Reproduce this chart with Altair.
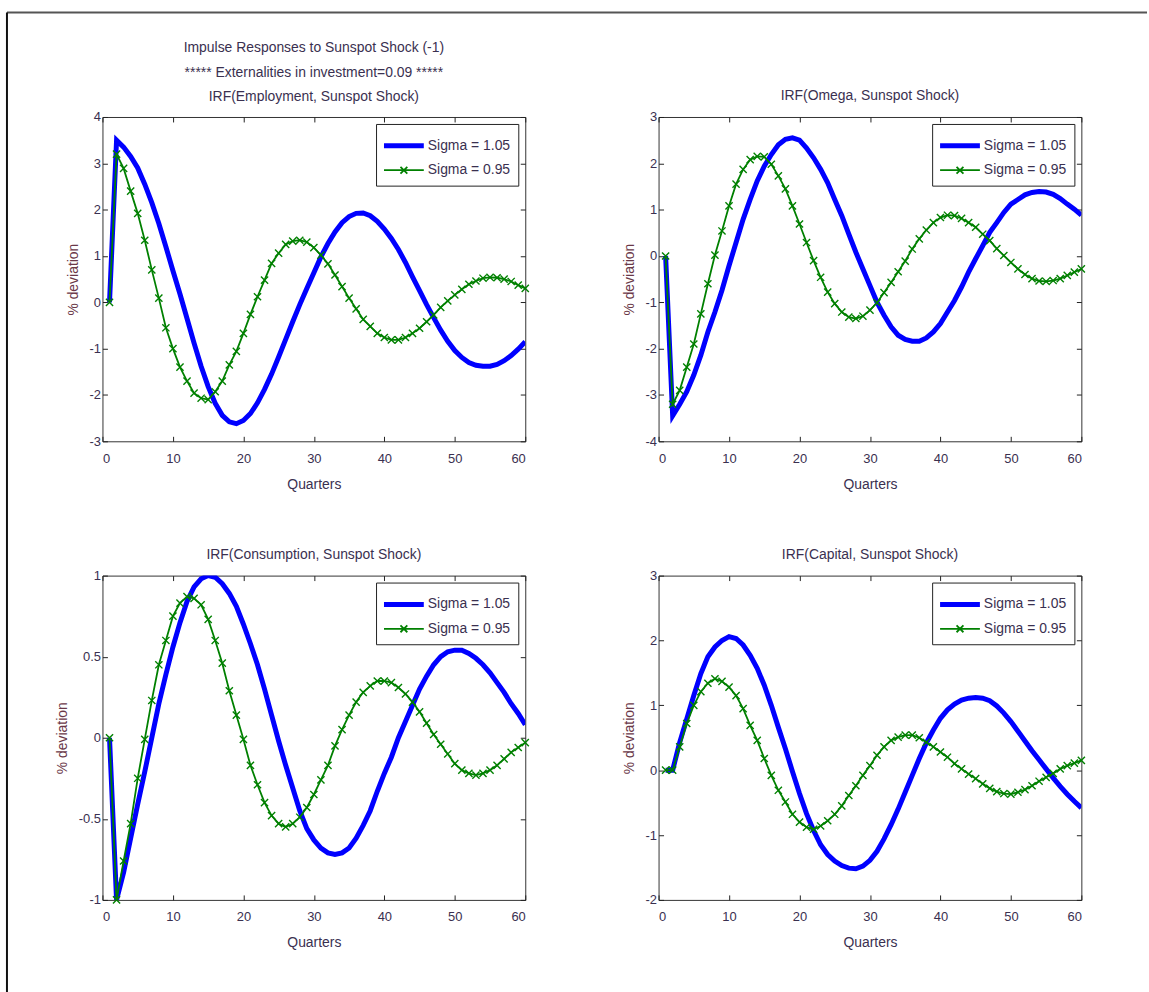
import altair as alt
import pandas as pd

quarters = list(range(1, 61))
series_names = ["Sigma = 1.05", "Sigma = 0.95"]

emp_blue = [0, 3.5, 3.35, 3.15, 2.9, 2.55, 2.15, 1.7, 1.2, 0.68,
            0.18, -0.35, -0.88, -1.38, -1.82, -2.18, -2.44, -2.58, -2.62, -2.55,
            -2.4, -2.17, -1.88, -1.55, -1.18, -0.8, -0.42, -0.05, 0.3, 0.64,
            0.98, 1.27, 1.52, 1.72, 1.85, 1.92, 1.93, 1.87, 1.75, 1.58,
            1.38, 1.14, 0.86, 0.55, 0.25, -0.05, -0.33, -0.6, -0.84, -1.04,
            -1.19, -1.3, -1.36, -1.38, -1.38, -1.34, -1.26, -1.15, -1.01, -0.85]
emp_green = [0, 3.2, 2.89, 2.4, 1.92, 1.34, 0.7, 0.09, -0.55, -1.0,
             -1.4, -1.7, -1.96, -2.07, -2.1, -1.93, -1.7, -1.35, -1.06, -0.67,
             -0.26, 0.12, 0.48, 0.84, 1.06, 1.25, 1.32, 1.34, 1.3, 1.18,
             1.02, 0.83, 0.59, 0.34, 0.09, -0.14, -0.37, -0.52, -0.67, -0.76,
             -0.81, -0.81, -0.76, -0.67, -0.56, -0.42, -0.27, -0.11, 0.03, 0.16,
             0.28, 0.39, 0.46, 0.52, 0.54, 0.53, 0.5, 0.45, 0.37, 0.3]

omega_blue = [0, -3.45, -3.2, -2.93, -2.57, -2.14, -1.64, -1.21, -0.74, -0.21,
              0.29, 0.79, 1.22, 1.62, 1.94, 2.19, 2.4, 2.52, 2.55, 2.5,
              2.33, 2.12, 1.87, 1.58, 1.22, 0.87, 0.47, 0.08, -0.28, -0.64,
              -1.0, -1.28, -1.53, -1.71, -1.8, -1.84, -1.84, -1.77, -1.64, -1.46,
              -1.21, -0.96, -0.67, -0.35, -0.06, 0.22, 0.51, 0.72, 0.94, 1.12,
              1.22, 1.32, 1.37, 1.39, 1.38, 1.33, 1.24, 1.12, 1.01, 0.88]
omega_green = [0, -3.2, -2.9, -2.4, -1.9, -1.25, -0.6, 0.02, 0.54, 1.08,
               1.55, 1.87, 2.08, 2.15, 2.14, 1.98, 1.73, 1.45, 1.08, 0.69,
               0.29, -0.1, -0.46, -0.78, -1.03, -1.21, -1.32, -1.35, -1.3, -1.17,
               -1.01, -0.79, -0.57, -0.34, -0.11, 0.15, 0.37, 0.56, 0.72, 0.83,
               0.88, 0.87, 0.81, 0.72, 0.62, 0.47, 0.33, 0.16, 0.01, -0.14,
               -0.28, -0.4, -0.49, -0.54, -0.55, -0.53, -0.49, -0.42, -0.35, -0.28]

cons_blue = [0, -1.0, -0.83, -0.62, -0.41, -0.21, 0.0, 0.21, 0.39, 0.56,
             0.71, 0.84, 0.93, 0.98, 1.0, 0.99, 0.95, 0.89, 0.81, 0.7,
             0.58, 0.45, 0.3, 0.14, -0.02, -0.17, -0.31, -0.45, -0.56, -0.63,
             -0.68, -0.71, -0.72, -0.71, -0.68, -0.62, -0.54, -0.45, -0.33, -0.22,
             -0.12, 0.0, 0.1, 0.2, 0.3, 0.38, 0.45, 0.5, 0.53, 0.54,
             0.54, 0.52, 0.49, 0.45, 0.4, 0.34, 0.28, 0.21, 0.15, 0.08]
cons_green = [0, -1.0, -0.76, -0.53, -0.25, -0.01, 0.23, 0.45, 0.6, 0.75,
              0.83, 0.87, 0.86, 0.82, 0.73, 0.6, 0.46, 0.29, 0.14, -0.01,
              -0.17, -0.29, -0.4, -0.48, -0.53, -0.55, -0.53, -0.49, -0.43, -0.35,
              -0.26, -0.17, -0.05, 0.05, 0.14, 0.22, 0.28, 0.32, 0.35, 0.35,
              0.34, 0.31, 0.27, 0.22, 0.16, 0.09, 0.02, -0.04, -0.1, -0.16,
              -0.2, -0.22, -0.23, -0.22, -0.2, -0.17, -0.13, -0.09, -0.06, -0.03]

cap_blue = [0, 0, 0.43, 0.79, 1.15, 1.49, 1.75, 1.9, 2.0, 2.06,
            2.03, 1.93, 1.77, 1.57, 1.31, 1.0, 0.66, 0.33, -0.02, -0.36,
            -0.67, -0.93, -1.15, -1.3, -1.4, -1.47, -1.51, -1.52, -1.48, -1.39,
            -1.25, -1.06, -0.84, -0.6, -0.34, -0.08, 0.18, 0.42, 0.62, 0.8,
            0.93, 1.02, 1.08, 1.11, 1.12, 1.11, 1.07, 0.99, 0.88, 0.75,
            0.6, 0.45, 0.3, 0.16, 0.02, -0.12, -0.25, -0.37, -0.48, -0.58]
cap_green = [0, 0, 0.36, 0.72, 1.0, 1.21, 1.34, 1.41, 1.37, 1.28,
             1.15, 0.95, 0.69, 0.46, 0.18, -0.08, -0.31, -0.49, -0.68, -0.8,
             -0.88, -0.91, -0.86, -0.78, -0.68, -0.55, -0.39, -0.24, -0.08, 0.07,
             0.23, 0.36, 0.46, 0.51, 0.54, 0.54, 0.5, 0.43, 0.36, 0.28,
             0.2, 0.1, 0.02, -0.06, -0.13, -0.21, -0.28, -0.33, -0.36, -0.37,
             -0.34, -0.3, -0.24, -0.17, -0.11, -0.05, 0.02, 0.07, 0.11, 0.15]

titles = [
    ["Impulse Responses to Sunspot Shock (-1)",
     "***** Externalities in investment=0.09  *****",
     "IRF(Employment, Sunspot Shock)"],
    "IRF(Omega, Sunspot Shock)",
    "IRF(Consumption, Sunspot Shock)",
    "IRF(Capital, Sunspot Shock)",
]
y_domains = [[-3, 4], [-4, 3], [-1, 1], [-2, 3]]
y_ticks = [[-3, -2, -1, 0, 1, 2, 3, 4], [-4, -3, -2, -1, 0, 1, 2, 3],
           [-1, -0.5, 0, 0.5, 1], [-2, -1, 0, 1, 2, 3]]
x_ticks = [0, 10, 20, 30, 40, 50, 60]

FONT = "Liberation Sans, Arial, sans-serif"
BLUE = "#0000FF"
GREEN = "#008000"
TXT = "#3a3050"
W, H = 425, 326

XMARK = "M-1,-1L1,1M-1,1L1,-1"
LEG_BLUE = "M-1.74,0L1.74,0"
LEG_GREEN = "M-1.74,0L1.74,0M-0.3,-0.3L0.3,0.3M-0.3,0.3L0.3,-0.3"

LEG = dict(title=None, orient="top-right", offset=7,
           strokeColor="#222", fillColor="white", padding=8,
           symbolSize=529, rowPadding=2, symbolOffset=6,
           labelOffset=10, labelFont=FONT, labelFontSize=14,
           labelColor=TXT, symbolOpacity=1)


def panel(title, blue, green, ydom, yt, first=False):
    df = pd.DataFrame({
        "q": quarters * 2,
        "v": blue + green,
        "s": [series_names[0]] * 60 + [series_names[1]] * 60,
    })
    gdf = pd.DataFrame({"q": quarters, "v": green})
    xs = alt.Scale(domain=[0, 60], nice=False, zero=False)
    ys = alt.Scale(domain=ydom, nice=False, zero=False)
    cs = alt.Scale(domain=series_names, range=[BLUE, GREEN])
    sws = alt.Scale(domain=series_names, range=[5, 1.8])
    shs = alt.Scale(domain=series_names, range=[LEG_BLUE, LEG_GREEN])
    lab = "'' + datum.value"

    legend_layer = alt.Chart(df).transform_filter("false").mark_point(
        filled=False, size=529, opacity=1).encode(
        x=alt.X("q:Q", scale=xs, axis=None),
        y=alt.Y("v:Q", scale=ys, axis=None),
        color=alt.Color("s:N", scale=cs, legend=alt.Legend(**LEG)),
        shape=alt.Shape("s:N", scale=shs, legend=alt.Legend(**LEG)),
        strokeWidth=alt.StrokeWidth("s:N", scale=sws, legend=alt.Legend(**LEG)),
    )
    line = alt.Chart(df).mark_line(clip=True).encode(
        x=alt.X("q:Q", scale=xs, axis=alt.Axis(
            values=x_ticks, title="Quarters", offset=-5, tickSize=5,
            domain=False, grid=False, labelPadding=11, titlePadding=12,
            labelExpr=lab)),
        y=alt.Y("v:Q", scale=ys, axis=alt.Axis(
            values=yt, title="% deviation", offset=-5, tickSize=5,
            domain=False, grid=False, labelPadding=2, titlePadding=9,
            labelExpr=lab)),
        color=alt.Color("s:N", scale=cs, legend=alt.Legend(**LEG)),
        strokeWidth=alt.StrokeWidth("s:N", scale=sws, legend=alt.Legend(**LEG)),
    )
    pts = alt.Chart(gdf).mark_point(shape=XMARK, size=52, filled=False, strokeWidth=1.4,
                                    color=GREEN, opacity=1).encode(
        x=alt.X("q:Q", scale=xs, axis=None),
        y=alt.Y("v:Q", scale=ys, axis=None),
    )
    frame = alt.Chart(gdf).mark_point(opacity=0).encode(
        x=alt.X("q:Q", scale=xs, axis=alt.Axis(
            orient="top", values=x_ticks, labels=False, title=None, offset=-5,
            tickSize=5, domain=False, grid=False)),
        y=alt.Y("v:Q", scale=ys, axis=alt.Axis(
            orient="right", values=yt, labels=False, title=None, offset=-5,
            tickSize=5, domain=False, grid=False)),
    )
    layers = [legend_layer, line, pts, frame]
    props = dict(width=W, height=H)
    if first:
        one = pd.DataFrame({"k": [0]})
        top_line = alt.Chart(one).mark_rule(color="#555", strokeWidth=2).encode(
            x=alt.value(-96), x2=alt.value(1050), y=alt.value(-105))
        left_line = alt.Chart(one).mark_rule(color="#111", strokeWidth=2).encode(
            x=alt.value(-96), y=alt.value(-105), y2=alt.value(880))
        head = alt.Chart(one).mark_text(
            text=title, font=FONT, fontSize=14, color=TXT, lineHeight=24.5,
            align="center", baseline="top").encode(
            x=alt.value(W / 2), y=alt.value(-76))
        layers += [top_line, left_line, head]
    else:
        props["title"] = alt.TitleParams(text=title, font=FONT, fontSize=14,
                                         fontWeight="normal", color=TXT, offset=8,
                                         anchor="middle")
    return alt.layer(*layers).resolve_axis(
        x="independent", y="independent"
    ).properties(**props)


p1 = panel(titles[0], emp_blue, emp_green, y_domains[0], y_ticks[0], first=True)
p2 = panel(titles[1], omega_blue, omega_green, y_domains[1], y_ticks[1])
p3 = panel(titles[2], cons_blue, cons_green, y_domains[2], y_ticks[2])
p4 = panel(titles[3], cap_blue, cap_green, y_domains[3], y_ticks[3])

chart = alt.concat(
    p1, p2, p3, p4, columns=2, spacing={"row": 135, "column": 134}, bounds="flush"
).resolve_scale(
    color="independent", strokeWidth="independent", shape="independent"
).resolve_legend(
    color="independent", strokeWidth="independent", shape="independent"
).properties(
    padding={"left": 5, "top": 8, "right": 0, "bottom": 0},
    background="white",
).configure_view(
    stroke="#333", strokeWidth=1
).configure_axis(
    labelFont=FONT, labelFontSize=13, labelColor=TXT, titleFont=FONT,
    titleFontSize=14, titleFontWeight="normal", titleColor=TXT, tickColor="#222",
    tickWidth=1
).configure_axisY(
    titleColor="#6a3848"
)

chart.save("out.html", embed_options={"renderer": "svg", "actions": False})
